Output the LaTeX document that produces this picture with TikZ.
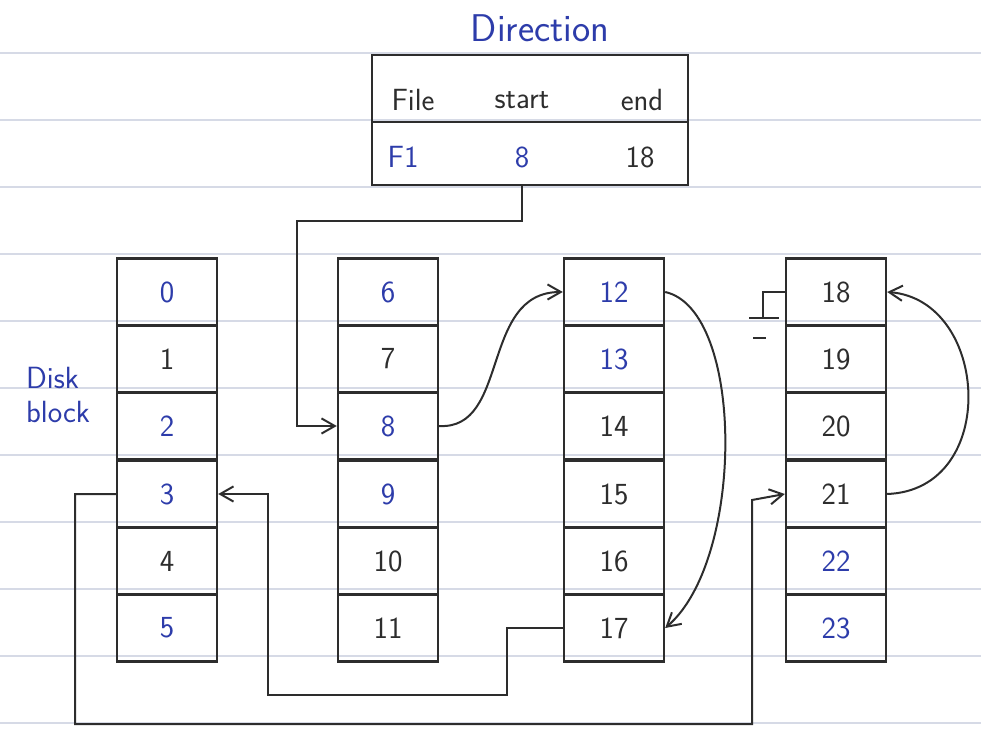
\documentclass[tikz,border=0pt]{standalone}
\usepackage{tikz}
\usetikzlibrary{arrows.meta,calc}
\definecolor{ink}{RGB}{45,45,45}
\definecolor{pen}{RGB}{45,60,170}
\definecolor{rule}{RGB}{214,218,230}

\begin{document}
\begin{tikzpicture}[x=0.75pt, y=-0.75pt, every node/.style={font=\sffamily\fontsize{23}{26}\selectfont, text=ink}, >={Straight Barb[length=3.5mm, width=4mm]}, cell/.style={draw=ink, line width=1.8pt, minimum width=75pt, minimum height=50.5pt, inner sep=0pt}, cellb/.style={cell, text=pen}, tbl/.style={draw=ink, line width=1.8pt, minimum width=237pt, inner sep=0pt}, wire/.style={draw=ink, line width=1.5pt}]
	\useasboundingbox (0,0) rectangle (981,730);
	% ruled paper
	\foreach \y in {53,120,187,254,321,388,455,522,589,656,723}
		\draw[rule, line width=1pt] (0,\y) -- (981,\y);
	% directory
	\node[text=pen, font=\sffamily\fontsize{29}{32}\selectfont] (title) at (540,28) {Direction};
	\node[tbl, minimum height=50pt] (head) at (530,88.5) {};
	\node[tbl, minimum height=47pt] (row) at (530,153.5) {};
	\node (hfile) at (413,100) {File};
	\node (hstart) at (522,100) {start};
	\node (hend) at (642,100) {end};
	\node[text=pen] (dfile) at (403,157) {F1};
	\node[text=pen] (dstart) at (522,157) {8};
	\node (dend) at (640,157) {18};
	\node[text=pen, align=left] (disk) at (58,395) {Disk\\block};
	% disk blocks
	\node[cellb] (b0) at (167,292) {0};
	\node[cell] (b1) at (167,359) {1};
	\node[cellb] (b2) at (167,426) {2};
	\node[cellb] (b3) at (167,494) {3};
	\node[cell] (b4) at (167,561) {4};
	\node[cellb] (b5) at (167,628) {5};
	\node[cellb] (b6) at (388,292) {6};
	\node[cell] (b7) at (388,359) {7};
	\node[cellb] (b8) at (388,426) {8};
	\node[cellb] (b9) at (388,494) {9};
	\node[cell] (b10) at (388,561) {10};
	\node[cell] (b11) at (388,628) {11};
	\node[cellb] (b12) at (614,292) {12};
	\node[cellb] (b13) at (614,359) {13};
	\node[cell] (b14) at (614,426) {14};
	\node[cell] (b15) at (614,494) {15};
	\node[cell] (b16) at (614,561) {16};
	\node[cell] (b17) at (614,628) {17};
	\node[cell] (b18) at (836,292) {18};
	\node[cell] (b19) at (836,359) {19};
	\node[cell] (b20) at (836,426) {20};
	\node[cell] (b21) at (836,494) {21};
	\node[cellb] (b22) at (836,561) {22};
	\node[cellb] (b23) at (836,628) {23};
	\coordinate (gnd) at (763,318);
	% links
	\draw[wire, ->] (dstart |- row.south) -- ++(0,35) -| ($(b8.west)+(-40,0)$) -- (b8.west);
	\draw[wire, ->] (b8.east) .. controls (510,430) and (480,292) .. (b12.west);
	\draw[wire, ->] (b12.east) .. controls (745,310) and (745,560) .. (b17.east);
	\draw[wire, ->] (b17.west) -| (507,695) -| (268,494) -- (b3.east);
	\draw[wire, ->] (b3.west) -| (75,724) -| (752,500) -- (b21.west);
	\draw[wire, ->] (b21.east) .. controls (1000,490) and (990,300) .. (b18.east);
	\draw[wire] (b18.west) -| (gnd);
	\draw[wire] (gnd) ++(-14,0) -- ++(30,0);
	\draw[wire] (gnd) ++(-10,20) -- ++(13,0);
	\end{tikzpicture}
\end{document}
